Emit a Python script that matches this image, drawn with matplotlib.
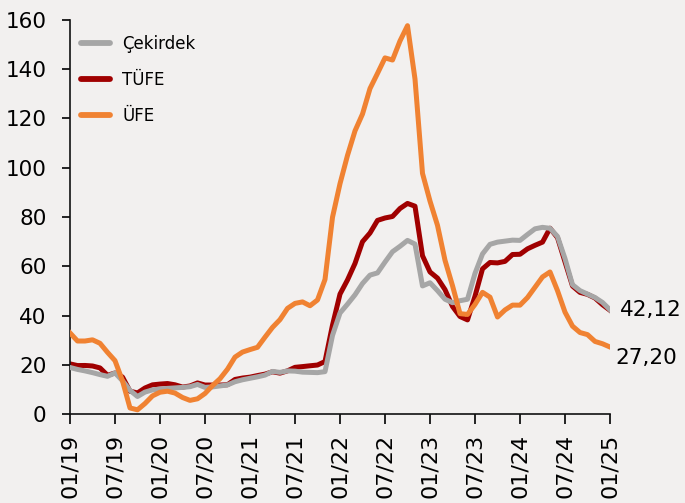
import matplotlib
matplotlib.use("Agg")
import matplotlib.pyplot as plt
import numpy as np

# ---- data (monthly, 01/2019 .. 01/2025) ----
cekirdek = [18.9, 18.1, 17.5, 16.8, 16.0, 15.3, 16.7, 13.5, 9.6, 7.1, 8.9, 9.8,
            10.1, 10.4, 10.6, 10.8, 11.1, 12.0, 10.8, 11.0, 11.4, 11.8, 13.1, 13.9,
            14.5, 15.1, 15.8, 17.3, 16.9, 17.5, 17.4, 17.0, 16.9, 16.8, 17.2, 31.9,
            41.0, 44.6, 48.4, 53.0, 56.4, 57.3, 61.7, 65.9, 68.1, 70.5, 69.0, 52.0,
            53.3, 50.1, 46.6, 45.2, 46.0, 46.6, 57.1, 65.0, 68.9, 69.8, 70.2, 70.6,
            70.5, 72.9, 75.2, 75.8, 75.4, 72.1, 63.1, 52.5, 50.1, 48.7, 47.3, 45.3,
            42.3]
tufe = [20.35, 19.67, 19.71, 19.50, 18.71, 15.72, 16.65, 15.01, 9.26, 8.55, 10.56, 11.84,
        12.15, 12.37, 11.86, 10.94, 11.39, 12.62, 11.76, 11.77, 11.75, 11.89, 14.03, 14.60,
        14.97, 15.61, 16.19, 17.14, 16.59, 17.53, 18.95, 19.25, 19.58, 19.89, 21.31, 36.08,
        48.69, 54.44, 61.14, 69.97, 73.50, 78.62, 79.60, 80.21, 83.45, 85.51, 84.39, 64.27,
        57.68, 55.18, 50.51, 43.68, 39.59, 38.21, 47.83, 58.94, 61.53, 61.36, 61.98, 64.77,
        64.86, 67.07, 68.50, 69.80, 75.45, 71.60, 61.78, 51.97, 49.38, 48.58, 47.09, 44.38,
        42.12]
ufe = [32.93, 29.64, 29.64, 30.12, 28.71, 25.04, 21.66, 13.45, 2.45, 1.70, 4.26, 7.36,
       8.84, 9.26, 8.50, 6.71, 5.53, 6.17, 8.33, 11.53, 14.33, 18.20, 23.11, 25.15,
       26.16, 27.09, 31.20, 35.17, 38.33, 42.89, 44.92, 45.52, 43.96, 46.31, 54.62, 79.89,
       93.53, 105.01, 114.97, 121.82, 132.16, 138.31, 144.61, 143.75, 151.50, 157.69, 136.02, 97.72,
       86.46, 76.61, 62.43, 52.11, 40.76, 40.42, 44.50, 49.41, 47.44, 39.39, 42.25, 44.22,
       44.20, 47.29, 51.47, 55.66, 57.68, 50.09, 41.37, 35.68, 33.09, 32.24, 29.47, 28.52,
       27.20]
xtick_labels = ["01/19", "07/19", "01/20", "07/20", "01/21", "07/21", "01/22",
                "07/22", "01/23", "07/23", "01/24", "07/24", "01/25"]
series_names = ["Çekirdek", "TÜFE", "ÜFE"]
end_labels = ["42,12", "27,20"]

x = np.arange(len(tufe))

bg = "#f2f0ef"
c_gray = "#a6a6a6"
c_red = "#a00000"
c_orange = "#f08232"

plt.rcParams['font.family'] = ['DejaVu Sans']
fig = plt.figure(figsize=(6.85, 5.03), dpi=100, facecolor=bg)
ax = fig.add_axes([70/685, 1-414/503, 540/685, 394/503])
ax.set_facecolor(bg)

lw = 3.6
l_red, = ax.plot(x, tufe, color=c_red, lw=lw, solid_joinstyle='round', label=series_names[1], zorder=2)
l_gray, = ax.plot(x, cekirdek, color=c_gray, lw=lw, solid_joinstyle='round', label=series_names[0], zorder=3)
l_or, = ax.plot(x, ufe, color=c_orange, lw=lw, solid_joinstyle='round', label=series_names[2], zorder=4)

ax.set_xlim(0, 72)
ax.set_ylim(0, 160)
ax.set_yticks(np.arange(0, 161, 20))
ax.set_xticks(np.arange(0, 73, 6))
ax.set_xticklabels(xtick_labels, rotation=90, fontsize=16)
ax.tick_params(axis='y', labelsize=15.5, length=6, width=1.2, pad=11, direction='out')
ax.tick_params(axis='x', length=7, width=1.2, pad=7, direction='out')
for s in ['top', 'right']:
    ax.spines[s].set_visible(False)
for s in ['left', 'bottom']:
    ax.spines[s].set_linewidth(1.2)
    ax.spines[s].set_color('#111111')

leg = ax.legend(handles=[l_gray, l_red, l_or], loc='upper left',
                bbox_to_anchor=(0.02, 0.963), frameon=False, fontsize=12,
                handlelength=1.75, handletextpad=0.75, labelspacing=1.1,
                borderpad=0, borderaxespad=0)
for h in leg.get_lines():
    h.set_linewidth(4.2)
    h.set_solid_capstyle('round')

ax.annotate(end_labels[0], xy=(x[-1], cekirdek[-1]), xytext=(7, 0),
            textcoords='offset points', va='center', ha='left', fontsize=15.5)
ax.annotate(end_labels[1], xy=(x[-1], ufe[-1]), xytext=(4, -8),
            textcoords='offset points', va='center', ha='left', fontsize=15.5)

fig.savefig("out.png", dpi=100, facecolor=bg)
